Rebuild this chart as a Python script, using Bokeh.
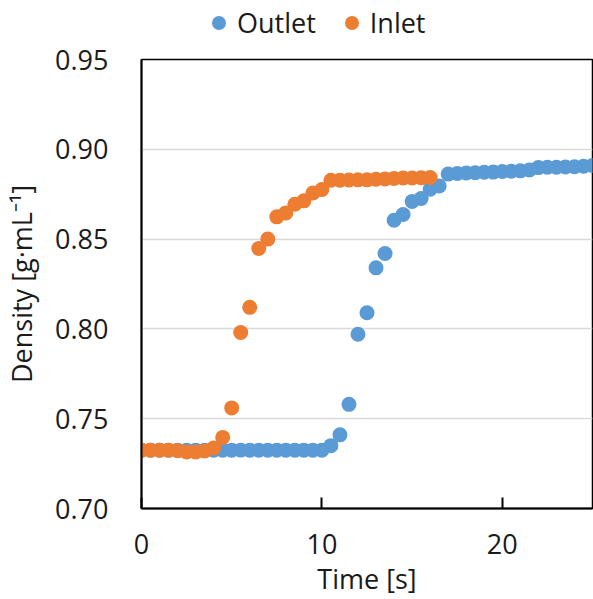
from bokeh.plotting import figure
from bokeh.layouts import column
from bokeh.models import (ColumnDataSource, Legend, LegendItem, FixedTicker,
                          NumeralTickFormatter, Range1d)
from bokeh.embed import file_html
from bokeh.resources import INLINE

# Density readings sampled every 0.5 s
time_outlet = [0.0, 0.5, 1.0, 1.5, 2.0, 2.5, 3.0, 3.5, 4.0, 4.5,
               5.0, 5.5, 6.0, 6.5, 7.0, 7.5, 8.0, 8.5, 9.0, 9.5,
               10.0, 10.5, 11.0, 11.5, 12.0, 12.5, 13.0, 13.5, 14.0, 14.5,
               15.0, 15.5, 16.0, 16.5, 17.0, 17.5, 18.0, 18.5, 19.0, 19.5,
               20.0, 20.5, 21.0, 21.5, 22.0, 22.5, 23.0, 23.5, 24.0, 24.5,
               25.0]
density_outlet = [0.7325, 0.7325, 0.7325, 0.7325, 0.7325, 0.7325, 0.7325, 0.7325, 0.7325, 0.7325,
                  0.7325, 0.7325, 0.7325, 0.7325, 0.7325, 0.7325, 0.7325, 0.7325, 0.7325, 0.7325,
                  0.7325, 0.7350, 0.7410, 0.7580, 0.7970, 0.8090, 0.8340, 0.8420, 0.8605, 0.8637,
                  0.8710, 0.8726, 0.8778, 0.8796, 0.8862, 0.8865, 0.8868, 0.8870, 0.8872, 0.8873,
                  0.8876, 0.8878, 0.8880, 0.8885, 0.8898, 0.8900, 0.8900, 0.8902, 0.8903, 0.8906,
                  0.8910]

time_inlet = [0.0, 0.5, 1.0, 1.5, 2.0, 2.5, 3.0, 3.5, 4.0, 4.5,
              5.0, 5.5, 6.0, 6.5, 7.0, 7.5, 8.0, 8.5, 9.0, 9.5,
              10.0, 10.5, 11.0, 11.5, 12.0, 12.5, 13.0, 13.5, 14.0, 14.5,
              15.0, 15.5, 16.0]
density_inlet = [0.7325, 0.7325, 0.7325, 0.7325, 0.7322, 0.7315, 0.7315, 0.7320, 0.7337, 0.7396,
                 0.7560, 0.7980, 0.8120, 0.8448, 0.8500, 0.8624, 0.8646, 0.8694, 0.8713, 0.8757,
                 0.8776, 0.8828, 0.8828, 0.8829, 0.8830, 0.8830, 0.8833, 0.8835, 0.8838, 0.8840,
                 0.8840, 0.8842, 0.8843]

x_ticks = [0, 10, 20]
y_ticks = [0.70, 0.75, 0.80, 0.85, 0.90, 0.95]

series_names = ["Outlet", "Inlet"]
series_colors = ["#5B9BD5", "#ED7D31"]

FONT = "Open Sans"
TEXT_COLOR = "#1a1a1a"
MARKER_SIZE = 15

sources = [ColumnDataSource(dict(t=time_outlet, d=density_outlet)),
           ColumnDataSource(dict(t=time_inlet, d=density_inlet))]

# Main chart
p = figure(width=593, height=558, output_backend="svg", toolbar_location=None,
           x_range=Range1d(0, 25), y_range=Range1d(0.70, 0.95),
           min_border_left=137, min_border_right=1, min_border_top=18,
           min_border_bottom=90)

p.background_fill_color = "white"
p.border_fill_color = "white"
p.outline_line_color = "black"
p.outline_line_width = 1.5

for src, c in zip(sources, series_colors):
    p.scatter("t", "d", source=src, size=MARKER_SIZE, marker="circle",
              fill_color=c, line_color=None)

p.xaxis.ticker = FixedTicker(ticks=x_ticks)
p.yaxis.ticker = FixedTicker(ticks=y_ticks)
p.yaxis.formatter = NumeralTickFormatter(format="0.00")
p.xaxis.axis_label = "Time [s]"
p.yaxis.axis_label = "Density [g\u00b7mL\u207b\u00b9]"

for ax in (p.xaxis, p.yaxis):
    ax.axis_line_color = "black"
    ax.axis_line_width = 2
    ax.major_label_text_font = FONT
    ax.major_label_text_font_size = "27px"
    ax.major_label_text_color = TEXT_COLOR
    ax.axis_label_text_font = FONT
    ax.axis_label_text_font_size = "27px"
    ax.axis_label_text_font_style = "normal"
    ax.axis_label_text_color = TEXT_COLOR
    ax.minor_tick_line_color = None

p.xaxis.major_tick_in = 11
p.xaxis.major_tick_out = 0
p.xaxis.major_tick_line_width = 2
p.xaxis.major_tick_line_color = "black"
p.xaxis.major_label_standoff = 25
p.xaxis.axis_label_standoff = 3

p.yaxis.major_tick_in = 0
p.yaxis.major_tick_out = 0
p.yaxis.major_tick_line_color = None
p.yaxis.major_label_standoff = 33
p.yaxis.axis_label_standoff = 12

p.xgrid.grid_line_color = None
p.ygrid.grid_line_color = "#d9d9d9"
p.ygrid.grid_line_width = 1.5

# Legend strip above the chart; its frame lines up with the chart frame
top = figure(width=593, height=41, output_backend="svg", toolbar_location=None,
             x_range=Range1d(0, 25), y_range=Range1d(0.70, 0.95),
             x_axis_type=None, y_axis_type=None,
             min_border_left=137, min_border_right=1, min_border_top=0,
             min_border_bottom=0)
top.outline_line_color = None
top.grid.visible = False
top.background_fill_color = "white"
top.border_fill_color = "white"

key_renderers = []
for src, c in zip(sources, series_colors):
    r = top.scatter("t", "d", source=src, size=MARKER_SIZE, marker="circle",
                    fill_color=c, line_color=None)
    r.visible = False
    key_renderers.append(r)

legend = Legend(items=[LegendItem(label=n, renderers=[r])
                       for n, r in zip(series_names, key_renderers)],
                location=(60, 0), orientation="horizontal",
                glyph_width=35, glyph_height=35, label_standoff=1, spacing=18,
                padding=0, margin=0, border_line_color=None,
                background_fill_alpha=0,
                label_text_font=FONT, label_text_font_size="27px",
                label_text_color=TEXT_COLOR)
top.add_layout(legend, "center")

layout = column(top, p, spacing=0)
open("out.html", "w").write(file_html(layout, INLINE))
